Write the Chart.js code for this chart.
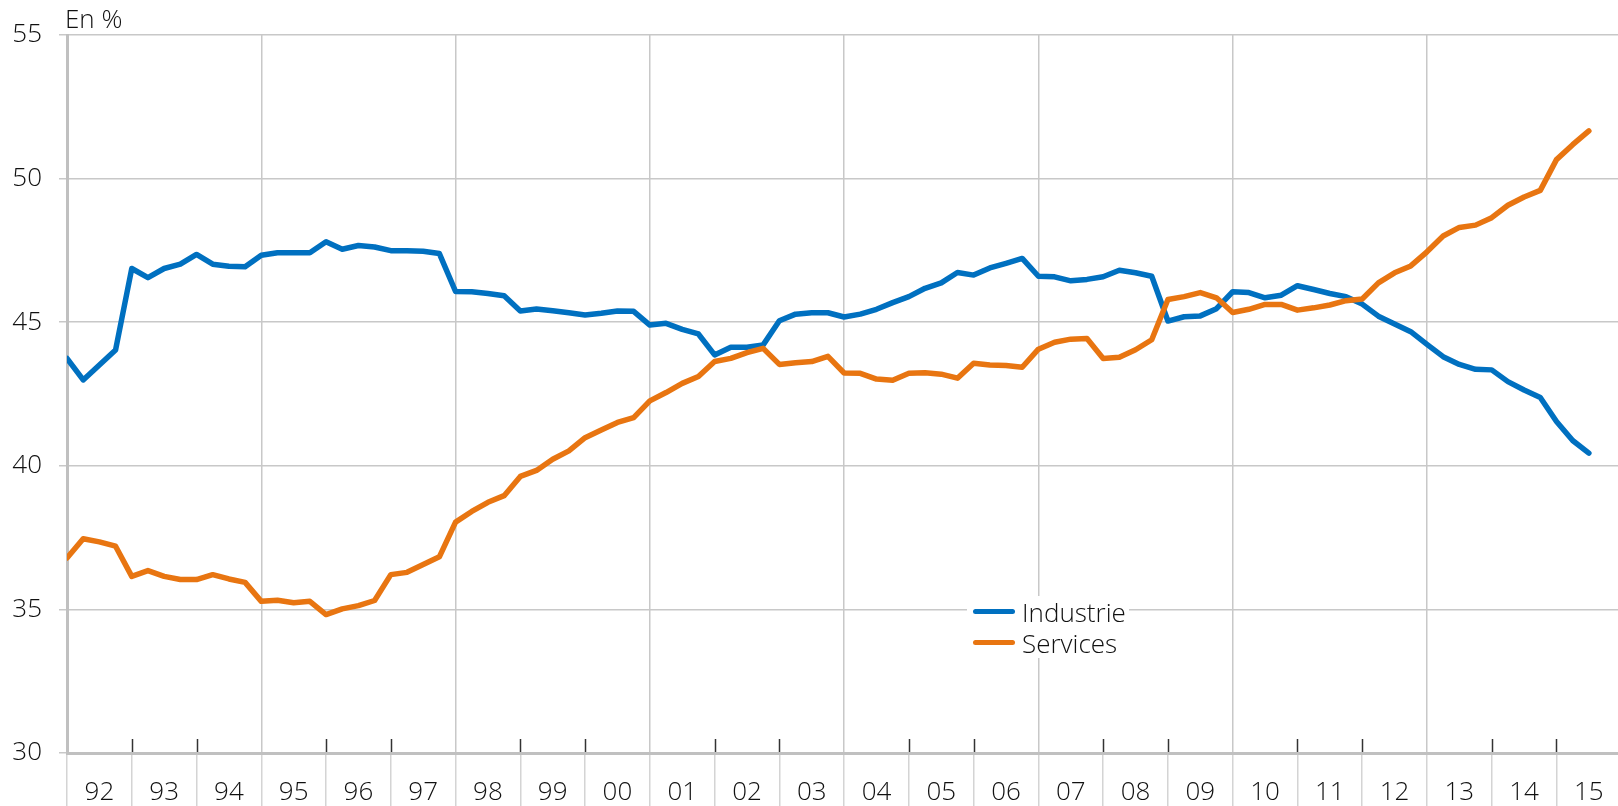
<!DOCTYPE html>
<html lang="fr">
<head>
  <meta charset="UTF-8">
  <title>Industrie et services</title>
  <script src="https://cdn.jsdelivr.net/npm/chart.js@4.4.0/dist/chart.umd.min.js"></script>
  <style>
    body { margin: 0; background: #fff; }
    #wrap { position: relative; width: 1618px; height: 806px; }
    #unit { position: absolute; left: 65px; top: 0px; font: 300 26px "Open Sans", Lato, sans-serif; color: #111; }
    #legend { position: absolute; left: 967px; top: 596px; width: 162px; height: 62px; background: #fff;
              font: 300 26px "Open Sans", Lato, sans-serif; color: #111; }
    #legend div.row { height: 31px; display: flex; align-items: center; }
    #legend span.swatch { display: inline-block; width: 42px; height: 5px; border-radius: 3px; margin: 0 7px 0 6px; }
  </style>
</head>
<body>
<div id="wrap">
  <canvas id="myChart"></canvas>
  <div id="unit">En %</div>
  <div id="legend"></div>
</div>

<script>
// quarterly, 1992T1 .. 2015T3
var yearLabels = ['92','93','94','95','96','97','98','99','00','01','02','03',
                  '04','05','06','07','08','09','10','11','12','13','14','15'];

var industrie = [
  43.74, 42.99, 43.51, 44.03, 46.87, 46.55, 46.87, 47.02, 47.36, 47.02, 46.95, 46.93,
  47.33, 47.42, 47.42, 47.42, 47.80, 47.54, 47.67, 47.62, 47.49, 47.49, 47.47, 47.39,
  46.07, 46.06, 46.00, 45.92, 45.39, 45.46, 45.40, 45.33, 45.25, 45.31, 45.39, 45.38,
  44.90, 44.96, 44.75, 44.59, 43.86, 44.13, 44.13, 44.21, 45.05, 45.28, 45.33, 45.33,
  45.18, 45.28, 45.45, 45.68, 45.89, 46.18, 46.37, 46.73, 46.64, 46.89, 47.05, 47.22,
  46.60, 46.58, 46.44, 46.49, 46.58, 46.81, 46.72, 46.60, 45.04, 45.19, 45.22, 45.47,
  46.06, 46.03, 45.85, 45.94, 46.27, 46.14, 46.00, 45.89, 45.63, 45.21, 44.94, 44.67,
  44.23, 43.80, 43.53, 43.36, 43.34, 42.93, 42.64, 42.38, 41.54, 40.88, 40.44
];

var services = [
  36.79, 37.46, 37.35, 37.20, 36.15, 36.35, 36.15, 36.04, 36.04, 36.21, 36.06, 35.94,
  35.28, 35.32, 35.23, 35.28, 34.82, 35.02, 35.13, 35.31, 36.21, 36.29, 36.56, 36.83,
  38.04, 38.41, 38.73, 38.96, 39.63, 39.84, 40.23, 40.52, 40.98, 41.25, 41.51, 41.68,
  42.26, 42.55, 42.87, 43.11, 43.63, 43.74, 43.94, 44.09, 43.53, 43.59, 43.63, 43.81,
  43.23, 43.22, 43.02, 42.98, 43.22, 43.24, 43.19, 43.05, 43.57, 43.51, 43.49, 43.43,
  44.06, 44.30, 44.41, 44.43, 43.74, 43.78, 44.04, 44.39, 45.79, 45.89, 46.03, 45.85,
  45.34, 45.45, 45.62, 45.62, 45.42, 45.50, 45.60, 45.75, 45.81, 46.37, 46.72, 46.96,
  47.45, 48.00, 48.30, 48.38, 48.64, 49.07, 49.36, 49.59, 50.66, 51.18, 51.66
];

var seriesNames = ['Industrie', 'Services'];
var seriesColors = ['#0070c0', '#e87511'];

var FONT = '"Open Sans", Lato, sans-serif';
var GRID = '#c8c8c8';
var NONE = 'rgba(0,0,0,0)';

function toPoints(arr) {
  return arr.map(function (v, i) { return { x: i, y: v }; });
}

// short dark tick marks above the x axis at year boundaries
var yearTicks = {
  id: 'yearTicks',
  afterDraw: function (chart) {
    var sx = chart.scales.x, ctx = chart.ctx, b = chart.chartArea.bottom;
    ctx.save();
    ctx.strokeStyle = '#333';
    ctx.lineWidth = 1.5;
    for (var q = 4; q < yearLabels.length * 4; q += 4) {
      if (q % 12 === 0) continue;
      var px = Math.round(sx.getPixelForValue(q)) + 0.5;
      ctx.beginPath();
      ctx.moveTo(px, b - 14);
      ctx.lineTo(px, b - 1);
      ctx.stroke();
    }
    ctx.restore();
  }
};

var ctx = document.getElementById('myChart').getContext('2d');
var chart = new Chart(ctx, {
  type: 'line',
  data: {
    datasets: [{
      label: seriesNames[0],
      data: toPoints(industrie),
      borderColor: seriesColors[0],
      order: 1
    }, {
      label: seriesNames[1],
      data: toPoints(services),
      borderColor: seriesColors[1],
      order: 0
    }]
  },
  options: {
    responsive: true,
    maintainAspectRatio: false,
    animation: false,
    layout: { padding: { top: 35, left: 0, right: 0, bottom: 0 } },
    elements: {
      point: { radius: 0 },
      line: { borderWidth: 5.5, tension: 0, borderJoinStyle: 'round', borderCapStyle: 'round', fill: false }
    },
    plugins: {
      legend: { display: false },
      tooltip: { enabled: false }
    },
    scales: {
      x: {
        type: 'linear',
        min: 0,
        max: 95.8,
        afterFit: function (s) { s.height = 53; },
        border: { display: true, color: '#c0c0c0', width: 3 },
        grid: {
          lineWidth: 1.5,
          tickLength: 53,
          color: function (c) { return c.tick && c.tick.value % 12 === 0 ? GRID : NONE; },
          tickColor: function (c) { return c.tick && c.tick.value % 4 === 0 ? '#d4d4d4' : NONE; }
        },
        ticks: {
          stepSize: 2,
          autoSkip: false,
          maxRotation: 0,
          includeBounds: false,
          padding: -29,
          color: '#111',
          font: { family: FONT, size: 26, weight: 300 },
          callback: function (v) { return v % 4 === 2 ? yearLabels[(v - 2) / 4] : ''; }
        }
      },
      y: {
        min: 30,
        max: 55,
        afterFit: function (s) { s.width = 67; },
        border: { display: true, color: '#c0c0c0', width: 3 },
        grid: { color: GRID, lineWidth: 1.5, tickLength: 8 },
        ticks: {
          stepSize: 5,
          padding: 17,
          color: '#111',
          font: { family: FONT, size: 26, weight: 300 }
        }
      }
    }
  },
  plugins: [yearTicks]
});

// legend built from the datasets
var legend = document.getElementById('legend');
chart.data.datasets.forEach(function (ds) {
  var row = document.createElement('div');
  row.className = 'row';
  var sw = document.createElement('span');
  sw.className = 'swatch';
  sw.style.background = ds.borderColor;
  row.appendChild(sw);
  row.appendChild(document.createTextNode(ds.label));
  legend.appendChild(row);
});
</script>
</body>
</html>
